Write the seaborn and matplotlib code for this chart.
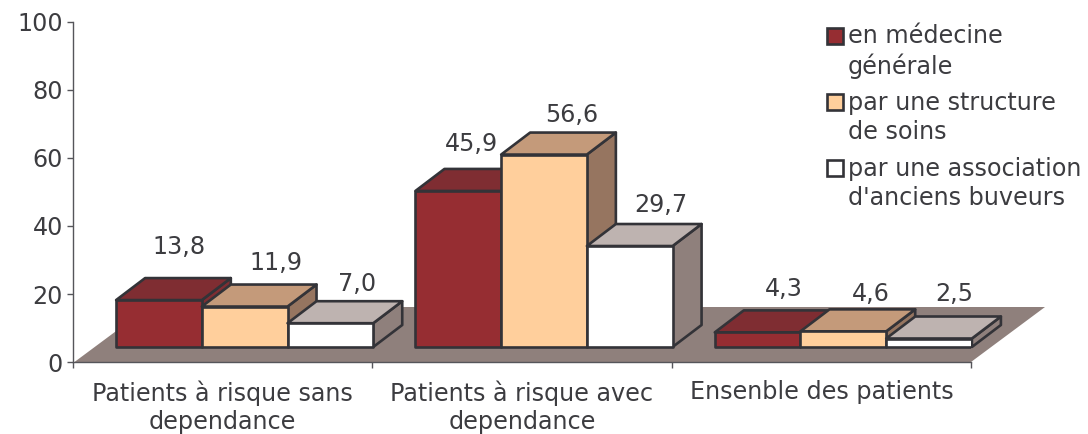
import matplotlib
matplotlib.use('Agg')
import matplotlib.pyplot as plt
import matplotlib.transforms as mtransforms
from matplotlib.patches import Polygon, Rectangle
import pandas as pd
import seaborn as sns

# donnees
categories = ['Patients à risque sans\ndependance', 'Patients à risque avec\ndependance', 'Ensenble des patients']
types_suivi = ['en médecine\ngénérale', 'par une structure\nde soins', "par une association\nd'anciens buveurs"]
medecine = [13.8, 45.9, 4.3]
structure = [11.9, 56.6, 4.6]
association = [7.0, 29.7, 2.5]
yticks = [0, 20, 40, 60, 80, 100]

# couleurs: face, dessus, cote
face = ['#962D32', '#FFCF9C', '#FFFFFF']
dessus = ['#7F2D32', '#C49A7A', '#BEB3B0']
cote = ['#7F2D32', '#967560', '#8F807C']
sol = '#8F807C'
bord = '#333338'
texte = '#3C3C40'

# decalage des etiquettes en pixels (dx, dy) depuis le haut de chaque barre
decal = [[(20, 53), (31, 44), (27, 39)],
         [(13, 47), (28, 40), (31, 41)],
         [(26, 43), (27, 37), (25, 44)]]

W, H = 1088, 434
PX_X = 299.3   # pixels par categorie
PX_Y = 3.4     # pixels par unite
base = 15 / PX_Y
shift = 22 / PX_X
prof_x = 29 / PX_X
prof_y = 22 / PX_Y
TAILLE = 17.2
EP = 1.9

sns.set_theme(style='white')
plt.rcParams['font.family'] = ['DejaVu Sans']

fig = plt.figure(figsize=(W / 100, H / 100), dpi=100)
ax = fig.add_axes([73 / W, (H - 362) / H, 898 / W, 340 / H])

df = pd.DataFrame({
    'groupe': categories * 3,
    'valeur': medecine + structure + association,
    'suivi': [t for t in types_suivi for _ in categories],
})

sns.barplot(data=df, x='groupe', y='valeur', hue='suivi', hue_order=types_suivi,
            palette=face, saturation=1, width=0.859, gap=0, legend=False,
            edgecolor=bord, linewidth=EP, ax=ax)

ax.set_xlim(-0.5, 2.5)
ax.set_ylim(0, 100)
ax.set_xlabel('')
ax.set_ylabel('')

# sol
ax.add_patch(Polygon([(-0.495, 0), (2.5, 0), (2.5 + 74 / PX_X, 55 / PX_Y), (-0.495 + 74 / PX_X, 55 / PX_Y)],
                     closed=True, facecolor=sol, edgecolor='none', zorder=1, clip_on=False))

# faces 3D, barre par barre de gauche a droite
z = 2
for g in range(len(categories)):
    for s, cont in enumerate(ax.containers):
        bar = cont.patches[g]
        bar.set_x(bar.get_x() + shift)
        h = bar.get_height()
        bar.set_y(base)
        x0, x1 = bar.get_x(), bar.get_x() + bar.get_width()
        y1 = base + h
        ax.add_patch(Polygon([(x1, base), (x1 + prof_x, base + prof_y), (x1 + prof_x, y1 + prof_y), (x1, y1)],
                             closed=True, facecolor=cote[s], edgecolor=bord, linewidth=EP,
                             joinstyle='round', zorder=z, clip_on=False))
        ax.add_patch(Polygon([(x0, y1), (x0 + prof_x, y1 + prof_y), (x1 + prof_x, y1 + prof_y), (x1, y1)],
                             closed=True, facecolor=dessus[s], edgecolor=bord, linewidth=EP,
                             joinstyle='round', zorder=z + 0.1, clip_on=False))
        bar.set_zorder(z + 0.2)
        bar.set_joinstyle('round')
        z += 1
        dx, dy = decal[g][s]
        ax.annotate(f'{h:.1f}'.replace('.', ','), xy=((x0 + x1) / 2, y1),
                    xytext=(dx * 0.72, dy * 0.72), textcoords='offset points',
                    ha='center', va='center', fontsize=TAILLE, color=texte, zorder=50)

# axes
for side in ['top', 'right']:
    ax.spines[side].set_visible(False)
for side in ['left', 'bottom']:
    ax.spines[side].set_color('#55555A')
    ax.spines[side].set_linewidth(1)
    ax.spines[side].set_zorder(40)

ax.set_yticks(yticks)
ax.set_xticks([-0.5, 0.5, 1.5, 2.5])
ax.set_xticklabels([])
ax.set_xticks([0, 1, 2], minor=True)
ax.set_xticklabels(categories, minor=True, linespacing=1.25)
ax.tick_params(axis='y', which='major', left=True, length=4.3, width=1, color='#55555A',
               labelsize=TAILLE, labelcolor=texte, pad=3)
ax.tick_params(axis='x', which='major', bottom=True, length=4.3, width=1, color='#55555A')
ax.tick_params(axis='x', which='minor', bottom=False, length=0, labelsize=TAILLE,
               labelcolor=texte, pad=13)

# legende en pixels
px = mtransforms.Affine2D().scale(1 / W, -1 / H).translate(0, 1) + fig.transFigure
leg_y = [36, 102, 168]
for s, (lab, y) in enumerate(zip(types_suivi, leg_y)):
    fig.add_artist(Rectangle((827, y - 8), 16, 16, transform=px, facecolor=face[s],
                             edgecolor=bord, linewidth=EP))
    fig.text(848 / W, 1 - (y + 15.5) / H, lab, ha='left', va='center', fontsize=TAILLE,
             color=texte, linespacing=1.25)

fig.savefig('out.png', dpi=100)
